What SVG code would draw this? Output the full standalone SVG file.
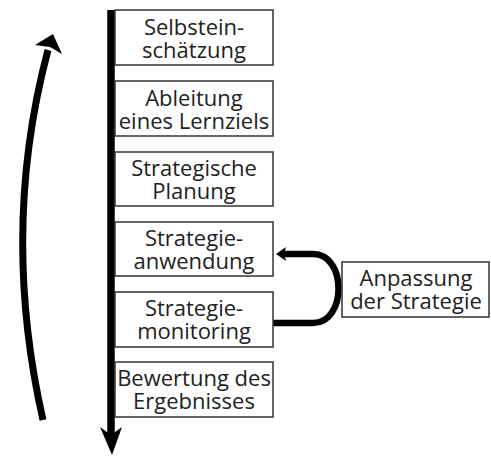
<svg xmlns="http://www.w3.org/2000/svg" width="491" height="456" viewBox="0 0 491 456">
<style>
.box{fill:#fff;stroke:#333;stroke-width:1.5}
.t{font-family:"Open Sans","Liberation Sans",sans-serif;font-size:22px;fill:#222;text-anchor:middle}
.c{fill:none;stroke:#000}
</style>
<rect width="491" height="456" fill="#fff"/>
<g id="connectors">
<line class="c" x1="111" y1="10" x2="111" y2="436" stroke-width="7.5"/>
<polygon points="100,427 111,435 122,427 112,455" fill="#000"/>
<path class="c" d="M43 420 Q0 230 48 50" stroke-width="7"/>
<polygon points="53,34 62,54 50,47 35,45" fill="#000"/>
<path class="c" d="M273 323 L313 323 C347 323 347 254 313 254 L283 254" stroke-width="6.5"/>
<polygon points="276,254 286,247 284,254 286,261" fill="#000"/>
</g>
<g id="n1"><rect class="box" x="115" y="10" width="158" height="55"/><text class="t" x="194" y="35">Selbstein-<tspan x="194" dy="23">schätzung</tspan></text></g>
<g id="n2"><rect class="box" x="115" y="81" width="158" height="55"/><text class="t" x="194" y="106">Ableitung<tspan x="194" dy="23">eines Lernziels</tspan></text></g>
<g id="n3"><rect class="box" x="115" y="152" width="158" height="54"/><text class="t" x="194" y="176">Strategische<tspan x="194" dy="23">Planung</tspan></text></g>
<g id="n4"><rect class="box" x="115" y="222" width="158" height="54"/><text class="t" x="194" y="246">Strategie-<tspan x="194" dy="23">anwendung</tspan></text></g>
<g id="n5"><rect class="box" x="115" y="292" width="158" height="55"/><text class="t" x="194" y="316">Strategie-<tspan x="194" dy="23">monitoring</tspan></text></g>
<g id="n6"><rect class="box" x="115" y="362" width="158" height="55"/><text class="t" x="194" y="386">Bewertung des<tspan x="194" dy="23">Ergebnisses</tspan></text></g>
<g id="n7"><rect class="box" x="342" y="262" width="147" height="55"/><text class="t" x="416" y="286">Anpassung<tspan x="416" dy="23">der Strategie</tspan></text></g>
</svg>
